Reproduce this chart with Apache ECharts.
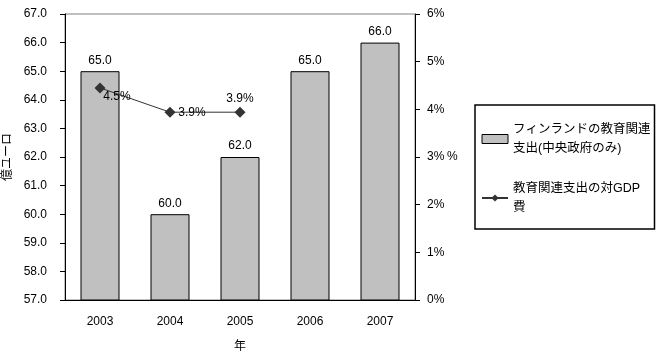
<!DOCTYPE html>
<html>
<head>
<meta charset="utf-8">
<script src="https://cdn.jsdelivr.net/npm/echarts@6/dist/echarts.min.js"></script>
<style>
  html, body { margin: 0; padding: 0; background: #fff; }
  #chart { width: 656px; height: 353px; }
</style>
</head>
<body>
<div id="chart"></div>
<script>
// データ
var years = ['2003', '2004', '2005', '2006', '2007'];
var spending = [65.0, 60.0, 62.0, 65.0, 66.0];      // 億ユーロ
var gdpRatio = [4.45, 3.94, 3.94, null, null];      // %
var ratioLabelOffsets = [[17, 9], [22, 0], [0, -14]];

var FONT = "'Liberation Sans', 'Noto Sans CJK JP', sans-serif";
var BAR_NAME = 'フィンランドの教育関連支出(中央政府のみ)';
var LINE_NAME = '教育関連支出の対GDP費';

(function() {
    var myChart = echarts.init(document.getElementById('chart'));

    var lineData = gdpRatio.map(function(v, i) {
        if (v == null) return v;
        return {
            value: v,
            label: { offset: ratioLabelOffsets[i] }
        };
    });

    var option = {
        animation: false,
        textStyle: { fontFamily: FONT },
        grid: {
            left: 65, right: 241, top: 14, bottom: 53,
            outerBoundsMode: 'none',
            containLabel: false,
            show: true, borderColor: '#808080', borderWidth: 1
        },
        legend: {
            orient: 'vertical',
            left: 475, top: 105,
            padding: [15, 4, 12, 6],
            itemGap: 21,
            itemWidth: 26, itemHeight: 9,
            borderColor: '#000', borderWidth: 1.5,
            textStyle: { fontSize: 12.5, lineHeight: 19, color: '#000', fontFamily: FONT },
            formatter: function(name) {
                if (name === BAR_NAME) return 'フィンランドの教育関連\n支出(中央政府のみ)';
                return '教育関連支出の対GDP\n費';
            },
            data: [
                { name: BAR_NAME, icon: 'rect', itemStyle: { borderWidth: 1 } },
                { name: LINE_NAME }
            ]
        },
        xAxis: {
            type: 'category',
            data: years,
            name: '年',
            nameLocation: 'middle',
            nameGap: 41,
            nameMoveOverlap: false,
            nameTextStyle: { fontSize: 12, color: '#000' },
            axisLine: { lineStyle: { color: '#000' } },
            axisTick: { inside: true, length: 3, lineStyle: { color: '#000' } },
            axisLabel: { color: '#000', fontSize: 12, margin: 16 }
        },
        yAxis: [{
            type: 'value',
            min: 57, max: 67, interval: 1,
            name: '億ユーロ',
            nameLocation: 'middle',
            nameGap: 51,
            nameRotate: 90,
            nameMoveOverlap: false,
            nameTextStyle: { fontSize: 12, color: '#000' },
            axisLine: { show: true, lineStyle: { color: '#000' } },
            axisTick: { show: true, length: 5, lineStyle: { color: '#000' } },
            axisLabel: {
                color: '#000', fontSize: 12, margin: 18,
                formatter: function(v) { return v.toFixed(1); }
            },
            splitLine: { show: false }
        }, {
            type: 'value',
            min: 0, max: 6, interval: 1,
            name: '%',
            nameLocation: 'middle',
            nameGap: 32,
            nameRotate: 0,
            nameMoveOverlap: false,
            nameTextStyle: { fontSize: 12, color: '#000' },
            axisLine: { show: true, lineStyle: { color: '#000' } },
            axisTick: { show: true, length: 5, lineStyle: { color: '#000' } },
            axisLabel: { color: '#000', fontSize: 12, margin: 12, formatter: '{value}%' },
            splitLine: { show: false }
        }],
        series: [{
            name: BAR_NAME,
            type: 'bar',
            barWidth: 39,
            data: spending,
            itemStyle: { color: '#c0c0c0', borderColor: '#000', borderWidth: 1 },
            label: {
                show: true, position: 'top', distance: 5,
                color: '#000', fontSize: 12,
                formatter: function(p) { return p.value.toFixed(1); }
            }
        }, {
            name: LINE_NAME,
            type: 'line',
            yAxisIndex: 1,
            data: lineData,
            symbol: 'diamond',
            symbolSize: 11,
            lineStyle: { color: '#333', width: 1 },
            itemStyle: { color: '#333' },
            label: {
                show: true, position: 'inside',
                color: '#000', fontSize: 12,
                formatter: function(p) { return p.value.toFixed(1) + '%'; }
            }
        }]
    };

    myChart.setOption(option);
})();
</script>
</body>
</html>
